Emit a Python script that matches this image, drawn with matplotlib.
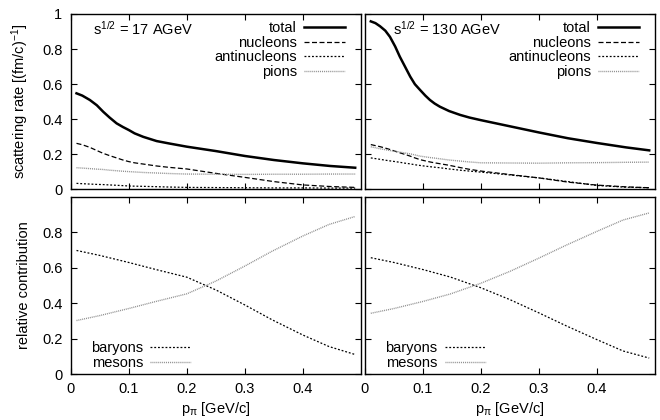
import numpy as np
import matplotlib
matplotlib.use('Agg')
import matplotlib.pyplot as plt
from matplotlib.ticker import FormatStrFormatter

plt.rcParams['font.family'] = ['Liberation Sans', 'DejaVu Sans']
plt.rcParams['font.size'] = 10.5
plt.rcParams['mathtext.default'] = 'regular'

# top panels: scattering rates
x17 = [0.01, 0.02, 0.033, 0.045, 0.056, 0.067, 0.079, 0.09, 0.1, 0.11, 0.125, 0.148, 0.17,
       0.2, 0.25, 0.3, 0.35, 0.4, 0.447, 0.49]
total17 = [0.548, 0.535, 0.51, 0.48, 0.443, 0.41, 0.377, 0.356, 0.339, 0.32, 0.30, 0.276, 0.262,
           0.244, 0.219, 0.191, 0.168, 0.149, 0.134, 0.124]
nucl17 = [0.263, 0.255, 0.24, 0.222, 0.206, 0.193, 0.18, 0.168, 0.159, 0.152, 0.145, 0.134, 0.126,
          0.117, 0.092, 0.069, 0.045, 0.026, 0.017, 0.012]
anti17 = [0.035, 0.033, 0.031, 0.029, 0.028, 0.026, 0.024, 0.022, 0.02, 0.019, 0.018, 0.016, 0.014,
          0.012, 0.011, 0.01, 0.009, 0.009, 0.008, 0.008]
pion17 = [0.124, 0.122, 0.119, 0.116, 0.114, 0.11, 0.107, 0.104, 0.102, 0.1, 0.097, 0.094, 0.091,
          0.088, 0.087, 0.086, 0.087, 0.087, 0.088, 0.088]

x130 = [0.01, 0.018, 0.026, 0.035, 0.043, 0.052, 0.06, 0.069, 0.078, 0.086, 0.095, 0.104, 0.112,
        0.12, 0.129, 0.145, 0.164, 0.18, 0.2, 0.25, 0.3, 0.35, 0.4, 0.45, 0.49]
total130 = [0.958, 0.948, 0.93, 0.905, 0.87, 0.815, 0.757, 0.70, 0.643, 0.60, 0.567, 0.535, 0.51,
            0.49, 0.472, 0.447, 0.425, 0.41, 0.395, 0.36, 0.325, 0.292, 0.265, 0.24, 0.223]
nucl130 = [0.256, 0.25, 0.244, 0.236, 0.228, 0.218, 0.209, 0.2, 0.19, 0.18, 0.17, 0.163, 0.157,
           0.152, 0.147, 0.138, 0.125, 0.115, 0.105, 0.085, 0.066, 0.042, 0.025, 0.015, 0.01]
anti130 = [0.18, 0.176, 0.172, 0.167, 0.163, 0.159, 0.155, 0.15, 0.146, 0.141, 0.137, 0.133, 0.13,
           0.127, 0.124, 0.117, 0.11, 0.105, 0.099, 0.083, 0.066, 0.045, 0.023, 0.013, 0.01]
pion130 = [0.243, 0.238, 0.232, 0.227, 0.222, 0.218, 0.213, 0.208, 0.203, 0.197, 0.19, 0.186, 0.182,
           0.179, 0.175, 0.168, 0.162, 0.157, 0.152, 0.151, 0.15, 0.152, 0.153, 0.155, 0.156]

# bottom panels: relative contributions
xr = [0.01, 0.05, 0.1, 0.147, 0.2, 0.25, 0.3, 0.347, 0.4, 0.445, 0.49]
bary17 = [0.698, 0.67, 0.63, 0.59, 0.547, 0.475, 0.39, 0.306, 0.22, 0.155, 0.11]
meso17 = [0.302, 0.33, 0.37, 0.41, 0.453, 0.525, 0.61, 0.694, 0.78, 0.845, 0.89]
bary130 = [0.657, 0.63, 0.59, 0.548, 0.487, 0.42, 0.345, 0.272, 0.194, 0.13, 0.09]
meso130 = [0.343, 0.37, 0.41, 0.452, 0.513, 0.58, 0.655, 0.728, 0.806, 0.87, 0.91]

energies = ['17', '130']

fig = plt.figure(figsize=(6.6, 4.2), dpi=100)
W, H = 660.0, 420.0
def box(l, t, r, b):
    return [l/W, 1-b/H, (r-l)/W, (b-t)/H]

axs = {
    'tl': fig.add_axes(box(70.7, 14, 361, 189.5)),
    'tr': fig.add_axes(box(365, 14, 655, 189.5)),
    'bl': fig.add_axes(box(70.7, 197, 361, 374)),
    'br': fig.add_axes(box(365, 197, 655, 374)),
}

gray = '#8c8c8c'
top_data = [(axs['tl'], x17, total17, nucl17, anti17, pion17, energies[0], 0.077),
            (axs['tr'], x130, total130, nucl130, anti130, pion130, energies[1], 0.097)]
for ax, x, tot, nu, an, pi, e, tx in top_data:
    ax.plot(x, tot, color='black', lw=1.8, label='total')
    ax.plot(x, nu, color='black', lw=0.9, dashes=(4, 2), label='nucleons')
    ax.plot(x, an, color='black', lw=0.9, dashes=(1.5, 1.5), label='antinucleons')
    ax.plot(x, pi, color=gray, lw=1.0, dashes=(0.7, 0.7), label='pions')
    ax.set_ylim(0, 1)
    ax.set_yticks([0, 0.2, 0.4, 0.6, 0.8, 1.0])
    ax.text(tx, 0.965, 's$^{1/2}$ = %s AGeV' % e, transform=ax.transAxes, va='top', ha='left')
    ax.legend(loc='upper right', bbox_to_anchor=(0.99, 1.035), markerfirst=False, frameon=False,
              handlelength=2.8, handletextpad=0.5, labelspacing=0.05, borderpad=0.4)
    ax.tick_params(labelbottom=False)

bot_data = [(axs['bl'], bary17, meso17), (axs['br'], bary130, meso130)]
for ax, ba, me in bot_data:
    ax.plot(xr, ba, color='black', lw=0.9, dashes=(1.5, 1.5), label='baryons')
    ax.plot(xr, me, color=gray, lw=1.0, dashes=(0.7, 0.7), label='mesons')
    ax.set_ylim(0, 1)
    ax.set_yticks([0, 0.2, 0.4, 0.6, 0.8])
    ax.set_xlabel(r'p$_\pi$ [GeV/c]', labelpad=3)
    ax.legend(loc='lower left', bbox_to_anchor=(0.025, -0.05), markerfirst=False, frameon=False,
              handlelength=2.8, handletextpad=0.5, labelspacing=0.05, borderpad=0.4)

for ax in axs.values():
    ax.set_xlim(0, 0.5)
    ax.set_xticks([0, 0.1, 0.2, 0.3, 0.4])
    ax.xaxis.set_major_formatter(FormatStrFormatter('%g'))
    ax.yaxis.set_major_formatter(FormatStrFormatter('%g'))
    ax.tick_params(direction='in', top=True, right=True, length=4, width=0.8)
    ax.tick_params(axis='x', pad=6)
    ax.tick_params(axis='y', pad=6)
    for s in ax.spines.values():
        s.set_linewidth(1.0)

axs['tr'].tick_params(labelleft=False)
axs['br'].tick_params(labelleft=False)
axs['tl'].set_ylabel('scattering rate [(fm/c)$^{-1}$]', labelpad=8)
axs['bl'].set_ylabel('relative contribution', labelpad=8)

fig.savefig('out.png', dpi=100)
